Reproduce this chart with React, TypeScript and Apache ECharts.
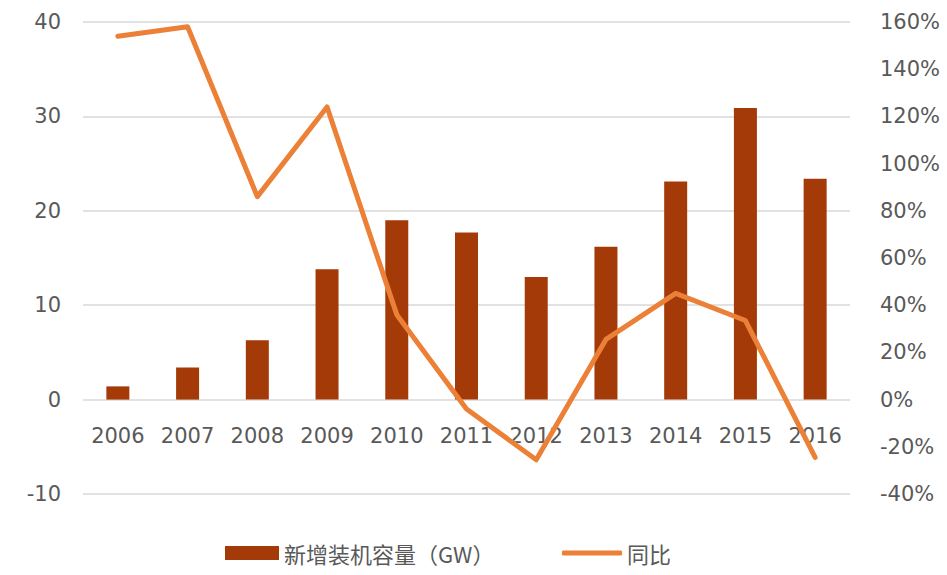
import React, { useEffect, useRef } from "react";
import * as echarts from "echarts";

const categories = ["2006", "2007", "2008", "2009", "2010", "2011", "2012", "2013", "2014", "2015", "2016"];
const capacityGW = [1.4, 3.4, 6.3, 13.8, 19.0, 17.7, 13.0, 16.2, 23.1, 30.9, 23.4];
const yoyPct = [154, 158, 86, 124, 36, -4, -25.5, 25.5, 45, 33.5, -24.5];
const leftTicks = { min: -10, max: 40, interval: 10 };
const rightTicks = { min: -40, max: 160, interval: 20 };
const barName = "新增装机容量（GW）";
const lineName = "同比";

export default function App() {
  const ref = useRef<HTMLDivElement>(null);
  useEffect(() => {
    document.body.style.margin = "0";
    const chart = echarts.init(ref.current!, null, { renderer: "svg" });
    const font = "'DejaVu Sans', 'Noto Sans CJK SC', sans-serif";
    const legendText = { color: "#595959", fontSize: 22, fontFamily: "'Noto Sans CJK SC', sans-serif" };
    const gridTop = 22;
    const gridBottom = 81;
    const plotHeight = 575 - gridTop - gridBottom;
    // distance of the zero line above the bottom of the plot, from the left axis range
    const zeroOffset = ((0 - leftTicks.min) / (leftTicks.max - leftTicks.min)) * plotHeight;
    chart.setOption({
      animation: false,
      backgroundColor: "#ffffff",
      textStyle: { fontFamily: font },
      grid: { left: 83, right: 97, top: gridTop, bottom: gridBottom, containLabel: false },
      legend: [
        {
          left: 220,
          top: 537,
          itemWidth: 54,
          itemHeight: 14,
          textStyle: legendText,
          data: [{ name: barName, icon: "rect" }],
        },
        {
          left: 557,
          top: 537,
          itemWidth: 60,
          itemHeight: 5,
          textStyle: legendText,
          data: [{ name: lineName, icon: "roundRect" }],
        },
      ],
      xAxis: {
        type: "category",
        data: categories,
        offset: -zeroOffset,
        axisLine: { show: false, onZero: false },
        axisTick: { show: false },
        axisLabel: { color: "#595959", fontSize: 21, margin: 26, fontFamily: font },
      },
      yAxis: [
        {
          type: "value",
          min: leftTicks.min,
          max: leftTicks.max,
          interval: leftTicks.interval,
          axisLine: { show: false },
          axisTick: { show: false },
          splitLine: { lineStyle: { color: "#D9D9D9", width: 1.5 } },
          axisLabel: { color: "#595959", fontSize: 21, margin: 22, fontFamily: font },
        },
        {
          type: "value",
          min: rightTicks.min,
          max: rightTicks.max,
          interval: rightTicks.interval,
          axisLine: { show: false },
          axisTick: { show: false },
          splitLine: { show: false },
          axisLabel: { color: "#595959", fontSize: 21, margin: 30, formatter: "{value}%", fontFamily: font },
        },
      ],
      series: [
        {
          name: barName,
          type: "bar",
          data: capacityGW,
          yAxisIndex: 0,
          barWidth: 23,
          itemStyle: { color: "#A33A08" },
          z: 2,
        },
        {
          name: lineName,
          type: "line",
          data: yoyPct,
          yAxisIndex: 1,
          symbol: "none",
          smooth: false,
          lineStyle: { color: "#EB8036", width: 5, cap: "round", join: "round" },
          itemStyle: { color: "#EB8036" },
          z: 3,
        },
      ],
    });
    return () => chart.dispose();
  }, []);
  return (
    <div
      ref={ref}
      style={{ position: "absolute", left: 0, top: 0, width: 947, height: 575 }}
    />
  );
}
